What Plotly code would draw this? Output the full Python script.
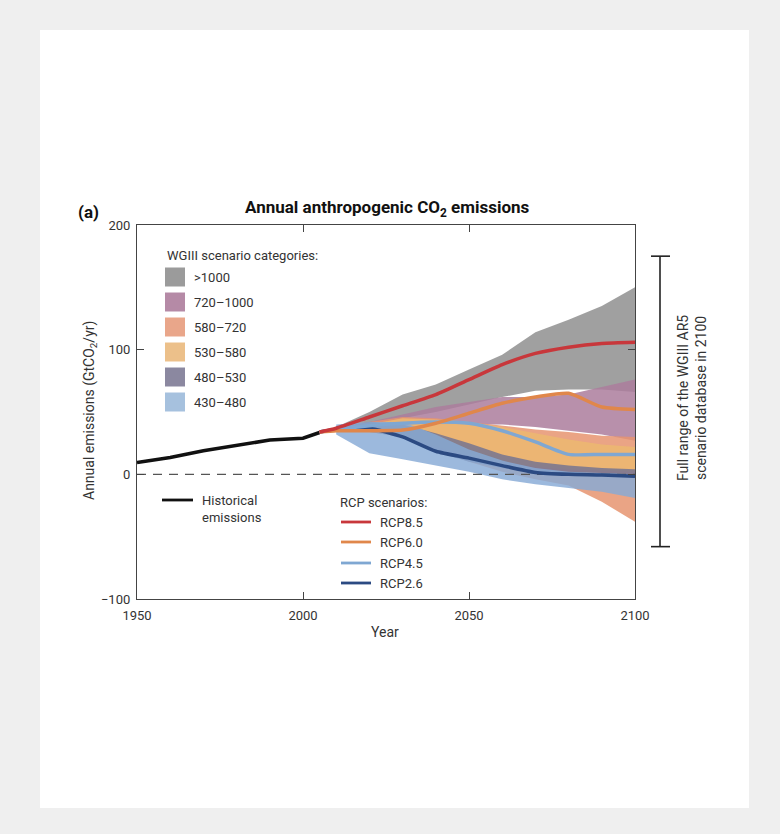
import plotly.graph_objects as go

# ---------------- data ----------------
hist_years = [1950, 1960, 1970, 1980, 1990, 2000, 2005]
hist_vals = [9.5, 13.5, 19, 23.5, 27.5, 29, 33.5]

rcp_years = [2005, 2010, 2020, 2030, 2040, 2050, 2060, 2070, 2080, 2090, 2100]
rcp85 = [34, 37, 46, 55, 64, 76, 88, 97, 102, 105, 106]
rcp60 = [34, 35, 35, 35.5, 41, 49, 57, 62, 65, 54, 52]
rcp45 = [34, 36, 39, 41, 42, 41, 35, 26, 16, 16, 16]
rcp26 = [34, 36, 37, 30, 18.5, 13, 7, 1.5, 0, -0.5, -1.5]

band_years = [2010, 2020, 2030, 2040, 2050, 2060, 2070, 2080, 2090, 2100]
cat_labels = [">1000", "720\u20131000", "580\u2013720", "530\u2013580", "480\u2013530", "430\u2013480"]
cat_lower = [
    [36, 40, 45, 50, 56, 62, 67, 68, 68, 66],        # >1000
    [36, 38, 40, 40, 40, 40, 38, 35, 32, 27],        # 720-1000
    [35, 34, 30, 20, 10, 2, -4, -9, -22, -38],       # 580-720
    [36, 36, 30, 22, 15, 10, 6, 4, 3, 2],            # 530-580
    [34, 34, 30, 18, 10, 5, 2, 0, -1, -2],           # 480-530
    [32, 17, 12, 7, 2, -4, -8, -11, -14, -19],       # 430-480
]
cat_upper = [
    [38, 50, 64, 72, 84, 96, 114, 124, 135, 150],
    [37, 42, 48, 54, 58, 62, 62, 64, 70, 76],
    [38, 42, 46, 45, 42, 39, 36, 34, 31, 30],
    [38, 40, 45, 44, 42, 38, 33, 28, 24, 22],
    [38, 42, 40, 33, 25, 16, 10, 7, 5, 4],
    [40, 42, 42, 32, 20, 11, 5, 2, 1, 0],
]
cat_colors = [
    "rgba(152,152,152,0.92)",
    "rgba(172,124,156,0.85)",
    "rgba(230,148,112,0.85)",
    "rgba(236,184,112,0.85)",
    "rgba(118,116,145,0.85)",
    "rgba(134,170,214,0.82)",
]
cat_swatch = ["#9b9b9b", "#b58aa6", "#e9a68a", "#ecc08a", "#8b88a0", "#a6c1de"]

rcp_names = ["RCP8.5", "RCP6.0", "RCP4.5", "RCP2.6"]
rcp_series = [rcp85, rcp60, rcp45, rcp26]
rcp_colors = ["#c8373b", "#e0874b", "#7fa7d2", "#2b4a82"]

db_range_2100 = [-58, 175]

FONT = "Liberation Sans Narrow, Roboto, sans-serif"

# ---------------- figure ----------------
PL, PR, PT, PB = 137, 635, 225, 599
W, H = 780, 834


def px(x):
    return (x - PL) / (PR - PL)


def py(y):
    return (PB - y) / (PB - PT)


fig = go.Figure()

# scenario category bands
for lo, up, col in zip(cat_lower, cat_upper, cat_colors):
    fig.add_trace(go.Scatter(x=band_years, y=lo, mode="lines", line=dict(width=0),
                             showlegend=False, hoverinfo="skip"))
    fig.add_trace(go.Scatter(x=band_years, y=up, mode="lines", line=dict(width=0),
                             fill="tonexty", fillcolor=col, showlegend=False, hoverinfo="skip"))

# zero line
fig.add_trace(go.Scatter(x=[1950, 2100], y=[0, 0], mode="lines",
                         line=dict(color="#555555", width=1.2, dash="9px,7px"),
                         showlegend=False, hoverinfo="skip"))

# historical
fig.add_trace(go.Scatter(x=hist_years, y=hist_vals, mode="lines",
                         line=dict(color="#111111", width=3.6), showlegend=False))

# RCP lines (draw 2.6 first so 8.5 on top)
for name, vals, col in list(zip(rcp_names, rcp_series, rcp_colors))[::-1]:
    fig.add_trace(go.Scatter(x=rcp_years, y=vals, mode="lines", name=name,
                             line=dict(color=col, width=3.5, shape="spline", smoothing=0.6),
                             showlegend=False))

shapes = []
# white card
shapes.append(dict(type="rect", xref="paper", yref="paper", x0=px(40), x1=px(749),
                   y0=py(808), y1=py(30), fillcolor="white", line=dict(width=0), layer="below"))

# database range bracket
bx = px(660)
shapes.append(dict(type="line", xref="paper", yref="y", x0=bx, x1=bx,
                   y0=db_range_2100[0], y1=db_range_2100[1], line=dict(color="#222", width=1.6)))
for v in db_range_2100:
    shapes.append(dict(type="line", xref="paper", yref="y", x0=px(651), x1=px(670),
                       y0=v, y1=v, line=dict(color="#222", width=1.6)))

annotations = []
TXT = "#333333"

# category legend
annotations.append(dict(x=px(165), y=py(255), xref="paper", yref="paper", xanchor="left",
                        yanchor="middle", text="WGIII scenario categories:", showarrow=False,
                        font=dict(family=FONT, size=13, color=TXT)))
row_y = [277, 302, 327, 352, 377, 402]
for lab, col, ry in zip(cat_labels, cat_swatch, row_y):
    shapes.append(dict(type="rect", xref="paper", yref="paper", x0=px(165), x1=px(185),
                       y0=py(ry + 9.5), y1=py(ry - 9.5), fillcolor=col, line=dict(width=0)))
    annotations.append(dict(x=px(192), y=py(ry), xref="paper", yref="paper", xanchor="left",
                            yanchor="middle", text=lab, showarrow=False,
                            font=dict(family=FONT, size=13, color=TXT)))

# historical legend
shapes.append(dict(type="line", xref="paper", yref="paper", x0=px(162), x1=px(193),
                   y0=py(500), y1=py(500), line=dict(color="#111", width=2.8)))
annotations.append(dict(x=px(200), y=py(509), xref="paper", yref="paper", xanchor="left",
                        yanchor="middle", text="Historical<br>emissions", showarrow=False,
                        align="left", font=dict(family=FONT, size=13, color=TXT)))

# RCP legend
annotations.append(dict(x=px(338), y=py(502), xref="paper", yref="paper", xanchor="left",
                        yanchor="middle", text="RCP scenarios:", showarrow=False,
                        font=dict(family=FONT, size=13, color=TXT)))
rcp_row_y = [522, 542, 563, 583]
for name, col, ry in zip(rcp_names, rcp_colors, rcp_row_y):
    shapes.append(dict(type="line", xref="paper", yref="paper", x0=px(341), x1=px(371),
                       y0=py(ry), y1=py(ry), line=dict(color=col, width=2.8)))
    annotations.append(dict(x=px(378), y=py(ry), xref="paper", yref="paper", xanchor="left",
                            yanchor="middle", text=name, showarrow=False,
                            font=dict(family=FONT, size=13, color=TXT)))

# titles
annotations.append(dict(x=px(387), y=py(208), xref="paper", yref="paper", xanchor="center",
                        yanchor="middle", text="<b>Annual anthropogenic CO<sub>2</sub> emissions</b>",
                        showarrow=False, font=dict(family=FONT, size=17, color="#111")))
annotations.append(dict(x=px(88), y=py(212), xref="paper", yref="paper", xanchor="center",
                        yanchor="middle", text="<b>(a)</b>", showarrow=False,
                        font=dict(family=FONT, size=17, color="#111")))
annotations.append(dict(x=px(90), y=py(411), xref="paper", yref="paper", xanchor="center",
                        yanchor="middle", text="Annual emissions (GtCO<sub>2</sub>/yr)",
                        textangle=-90, showarrow=False, font=dict(family=FONT, size=14, color=TXT)))
annotations.append(dict(x=px(385), y=py(632), xref="paper", yref="paper", xanchor="center",
                        yanchor="middle", text="Year", showarrow=False,
                        font=dict(family=FONT, size=14, color=TXT)))
annotations.append(dict(x=px(692), y=py(398), xref="paper", yref="paper", xanchor="center",
                        yanchor="middle",
                        text="Full range of the WGIII AR5<br>scenario database in 2100",
                        textangle=-90, showarrow=False,
                        font=dict(family=FONT, size=14, color=TXT)))

axis_common = dict(showgrid=False, zeroline=False, showline=True, linecolor="#444",
                   linewidth=1.2, mirror="ticks", ticks="inside", ticklen=7, tickcolor="#444",
                   tickwidth=1, tickfont=dict(family=FONT, size=13, color=TXT))

fig.update_layout(
    width=W, height=H,
    margin=dict(l=PL, r=W - PR, t=PT, b=H - PB, pad=0),
    paper_bgcolor="#efefef", plot_bgcolor="rgba(0,0,0,0)",
    showlegend=False,
    xaxis=dict(range=[1950, 2100], tickvals=[1950, 2000, 2050, 2100], ticklabelstandoff=4,
               **axis_common),
    yaxis=dict(range=[-100, 200], tickvals=[-100, 0, 100, 200], ticklabelstandoff=3,
               **axis_common),
    shapes=shapes, annotations=annotations,
)

fig.write_html("out.html")
